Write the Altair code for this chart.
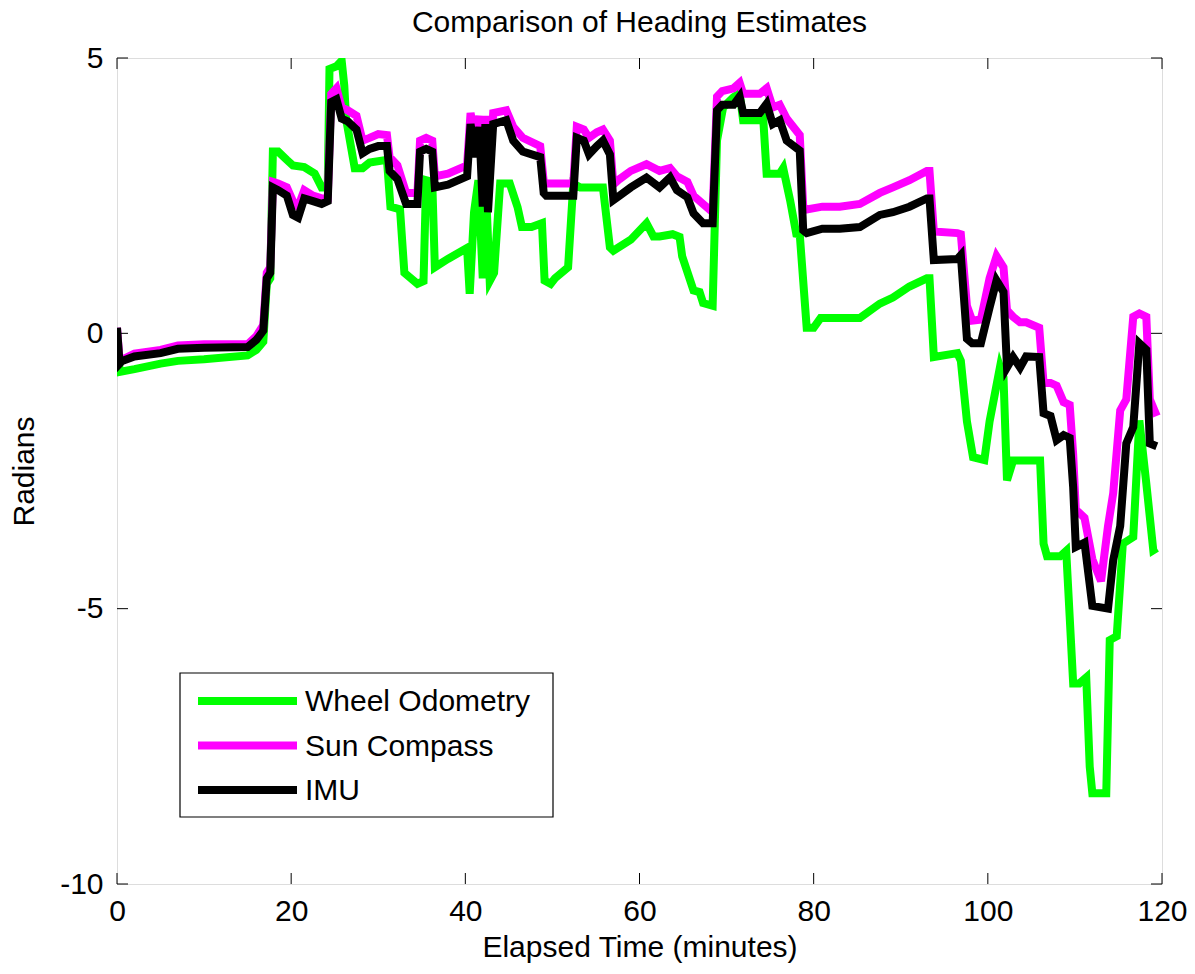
import altair as alt
import pandas as pd

# ---- data ----
series_names = ["Wheel Odometry", "Sun Compass", "IMU"]
series_colors = ["#00ff00", "#ff00ff", "#000000"]

imu_t = [0, 0.3, 0.6, 2, 5, 7, 10, 15, 16, 16.8, 17.2, 17.6, 17.9, 18.5, 19.5, 20.2, 20.8, 21.5, 22.5, 23.5,
         24.2, 24.6, 25.2, 25.8, 26.5, 27.5, 28.2, 29, 30, 31, 31.3, 32.2, 33.2, 34.5, 34.8, 35.5, 36.2, 36.5,
         38, 40.2, 40.6, 41.2, 41.6, 42.0, 42.3, 42.6, 43.2, 44.7, 45.5, 46.6, 48.6, 49.0, 49.3, 52.4, 52.8,
         53.6, 54.2, 55.1, 55.8, 56.6, 57.0, 57.7, 59, 60.8, 62.3, 63.5, 64.3, 65.5, 66.2, 67.3, 68.4, 68.9,
         69.5, 70.8, 71.5, 71.9, 73.8, 74.6, 75.3, 76.1, 76.9, 78.4, 78.8, 79.2, 81, 83, 85.3, 87.6, 89.1, 91,
         93, 93.3, 93.8, 96.5, 96.9, 97.6, 98.2, 99.2, 100.2, 101.0, 101.8, 102.2, 102.9, 103.7, 104.4, 105.9,
         106.4, 107.2, 107.9, 108.7, 109.4, 109.8, 110.1, 111.1, 112, 113.8, 114.4, 115.2, 115.9, 116.7, 117.4,
         118.2, 118.6, 119.4]
imu_v = [0.1, -0.55, -0.5, -0.42, -0.36, -0.28, -0.26, -0.25, -0.12, 0.05, 1.0, 1.1, 2.65, 2.6, 2.5, 2.15, 2.1,
         2.45, 2.4, 2.35, 2.4, 4.2, 4.25, 3.9, 3.85, 3.7, 3.27, 3.35, 3.4, 3.4, 2.95, 2.8, 2.35, 2.35, 3.3, 3.35,
         3.3, 2.65, 2.7, 2.85, 3.8, 3.2, 3.75, 2.3, 3.8, 2.2, 3.8, 3.87, 3.5, 3.3, 3.2, 2.55, 2.5, 2.5, 3.55, 3.5,
         3.25, 3.4, 3.5, 3.25, 2.42, 2.5, 2.65, 2.83, 2.65, 2.83, 2.6, 2.47, 2.18, 2.0, 2.0, 4.05, 4.15, 4.15,
         4.3, 4.0, 4.0, 4.17, 3.8, 3.87, 3.5, 3.32, 1.87, 1.82, 1.9, 1.9, 1.93, 2.15, 2.2, 2.3, 2.45, 2.45, 1.33,
         1.35, 1.42, -0.1, -0.18, -0.18, 0.47, 0.96, 0.75, -0.62, -0.43, -0.62, -0.42, -0.43, -1.45, -1.5, -1.94,
         -1.85, -1.9, -2.8, -3.88, -3.8, -4.95, -5.0, -4.12, -3.5, -2.0, -1.7, -0.18, -0.3, -2.0, -2.05]

sun_t = [0, 0.3, 2, 5, 7, 10, 15, 16, 16.8, 17.2, 17.6, 17.9, 18.5, 19.5, 20.2, 20.8, 21.5, 22.5, 23.5, 24.2,
         24.6, 25.2, 25.8, 26.5, 27.5, 28.2, 29, 30, 31, 31.3, 32.2, 33.2, 34.5, 34.8, 35.5, 36.2, 36.5, 38,
         40.2, 40.6, 41.2, 41.6, 42.0, 42.3, 42.6, 43.2, 44.7, 45.5, 46.6, 48.6, 49.0, 49.3, 52.4, 52.8, 53.6,
         54.2, 55.1, 55.8, 56.6, 57.0, 57.7, 59, 60.8, 62.3, 63.5, 64.3, 65.5, 66.2, 67.3, 68.4, 68.9, 69.5,
         70.8, 71.5, 71.9, 73.8, 74.6, 75.3, 76.1, 76.9, 78.4, 78.8, 79.2, 81, 83, 85.3, 87.6, 89.1, 91, 93,
         93.3, 93.8, 96.5, 96.9, 97.6, 98.2, 99.2, 100.2, 101.0, 101.8, 102.2, 102.9, 103.7, 104.4, 105.9,
         106.4, 107.2, 107.9, 108.7, 109.4, 109.8, 110.1, 111.1, 112, 113, 113.8, 114.4, 115.2, 115.9, 116.7,
         117.4, 118.2, 118.6, 119.4]
sun_v = [0.1, -0.5, -0.37, -0.3, -0.22, -0.2, -0.2, -0.05, 0.15, 1.1, 1.2, 2.75, 2.72, 2.65, 2.4, 2.3, 2.6, 2.5,
         2.45, 2.45, 4.35, 4.45, 4.1, 4.05, 3.95, 3.5, 3.55, 3.62, 3.6, 3.2, 3.05, 2.55, 2.55, 3.5, 3.55, 3.5,
         2.85, 2.9, 3.05, 4.0, 3.5, 3.95, 2.6, 3.95, 2.5, 4.0, 4.05, 3.75, 3.55, 3.4, 2.75, 2.72, 2.72, 3.75, 3.7,
         3.55, 3.65, 3.7, 3.5, 2.7, 2.8, 2.95, 3.07, 2.95, 3.0, 2.85, 2.75, 2.5, 2.35, 2.2, 4.3, 4.4, 4.45, 4.55,
         4.35, 4.35, 4.45, 4.1, 4.15, 3.9, 3.6, 2.3, 2.25, 2.3, 2.3, 2.35, 2.55, 2.65, 2.78, 2.95, 2.95, 1.85,
         1.82, 1.8, 0.5, 0.23, 0.25, 1.0, 1.4, 1.2, 0.42, 0.3, 0.2, 0.2, 0.1, -0.9, -0.9, -0.95, -1.25, -1.3,
         -2.2, -3.2, -3.35, -4.1, -4.5, -3.5, -2.9, -1.4, -1.2, 0.3, 0.36, 0.3, -1.2, -1.5]

wheel_t = [0, 0.3, 2, 5, 7, 10, 15, 16, 16.8, 17.2, 17.6, 17.9, 18.5, 19.5, 20.2, 21.5, 22.7, 23.5, 24.2, 24.4,
           25.2, 25.8, 26.1, 26.3, 27.3, 28.2, 29, 31, 31.4, 32.5, 33.0, 34.5, 35.2, 35.5, 36.2, 36.5, 38, 40.2,
           40.5, 41, 41.5, 42.0, 42.4, 42.8, 43.3, 44, 45.1, 46, 46.5, 47.6, 48.8, 49.1, 49.8, 50.3, 51.8, 52.4,
           53.2, 55.8, 56.6, 57, 59, 60.8, 61.6, 62.3, 63.8, 64.6, 64.9, 66.2, 66.9, 67.3, 68.4, 68.9, 69.6,
           70.8, 71.5, 71.9, 73.8, 74.2, 74.6, 76.1, 76.5, 77.3, 78, 78.4, 79.2, 80, 80.8, 85.3, 87.6, 89.1, 91,
           93, 93.3, 93.8, 96.5, 96.9, 97.6, 98.3, 99.6, 100.2, 101.4, 101.8, 102.2, 102.9, 106, 106.4, 106.8,
           108.3, 109, 109.4, 109.8, 110.5, 111.3, 111.7, 112, 113.6, 114, 114.8, 115.5, 116.7, 117.4, 118.2,
           119, 119.4]
wheel_v = [0.0, -0.7, -0.65, -0.55, -0.5, -0.47, -0.4, -0.3, -0.15, 0.9, 1.0, 3.3, 3.3, 3.15, 3.05, 3.02, 2.9,
           2.65, 2.65, 4.8, 4.85, 4.95, 4.5, 3.9, 3.0, 3.0, 3.1, 3.15, 2.3, 2.25, 1.1, 0.9, 0.95, 2.78, 2.75, 1.2,
           1.35, 1.55, 0.72, 2.2, 2.78, 1.0, 2.5, 0.95, 1.1, 2.72, 2.72, 2.29, 1.93, 1.93, 2.0, 0.96, 0.9, 1.0,
           1.2, 2.72, 2.65, 2.65, 1.56, 1.5, 1.7, 2.0, 1.76, 1.76, 1.8, 1.75, 1.4, 0.78, 0.75, 0.55, 0.5, 3.5,
           4.1, 4.29, 4.36, 3.87, 3.87, 3.92, 2.9, 2.9, 3.0, 2.41, 1.81, 1.8, 0.1, 0.1, 0.28, 0.28, 0.54, 0.65,
           0.85, 1.0, 1.0, -0.43, -0.36, -0.5, -1.6, -2.25, -2.3, -1.6, -0.61, -0.8, -2.67, -2.31, -2.31, -3.82,
           -4.05, -4.05, -3.95, -5.15, -6.36, -6.36, -6.25, -7.87, -8.35, -8.35, -5.57, -5.5, -3.82, -3.7, -1.58,
           -2.73, -3.94, -3.9]

x_ticks = [0, 20, 40, 60, 80, 100, 120]
y_ticks = [-10, -5, 0, 5]

# ---- tables ----
def frame(name, t, v):
    return pd.DataFrame({"t": t, "v": v, "series": name, "i": range(len(t))})

df_wheel = frame("Wheel Odometry", wheel_t, wheel_v)
df_sun = frame("Sun Compass", sun_t, sun_v)
df_imu = frame("IMU", imu_t, imu_v)
df_xt = pd.DataFrame({"t": x_ticks})
df_yt = pd.DataFrame({"v": y_ticks})
df_leg = pd.DataFrame({"series": series_names, "row": list(range(len(series_names)))})

W, H = 1045, 826
TL = 11
FONT = "Liberation Sans"
FS = 30

xscale = alt.Scale(domain=[0, 120], nice=False, zero=False)
yscale = alt.Scale(domain=[-10, 5], nice=False, zero=False)
cscale = alt.Scale(domain=series_names, range=series_colors)

xaxis = alt.Axis(values=x_ticks, ticks=False, domain=False, grid=False, labelFlush=False,
                 labelPadding=12, labelFontSize=FS, labelFont=FONT, labelColor="black",
                 labelExpr="toString(datum.value)",
                 title="Elapsed Time (minutes)", titleFontSize=FS, titleFont=FONT,
                 titleFontWeight="normal", titleColor="black", titlePadding=6)
yaxis = alt.Axis(values=y_ticks, ticks=False, domain=False, grid=False, labelFlush=False,
                 labelPadding=14, labelFontSize=FS, labelFont=FONT, labelColor="black",
                 labelExpr="toString(datum.value)",
                 title="Radians", titleFontSize=FS, titleFont=FONT, titleFontWeight="normal",
                 titleColor="black", titlePadding=20)

X = alt.X("t:Q", scale=xscale, axis=xaxis)
Y = alt.Y("v:Q", scale=yscale, axis=yaxis)


def line(df):
    return alt.Chart(df).mark_line(strokeWidth=8, clip=True).encode(
        x=X, y=Y, order="i:Q",
        color=alt.Color("series:N", scale=cscale, legend=None),
    )


layers = [line(df_wheel), line(df_sun), line(df_imu)]

tick_style = dict(color="black", strokeWidth=1)
layers += [
    alt.Chart(df_xt).mark_rule(**tick_style).encode(x=X, y=alt.value(H), y2=alt.value(H - TL)),
    alt.Chart(df_xt).mark_rule(**tick_style).encode(x=X, y=alt.value(0), y2=alt.value(TL)),
    alt.Chart(df_yt).mark_rule(**tick_style).encode(y=Y, x=alt.value(0), x2=alt.value(TL)),
    alt.Chart(df_yt).mark_rule(**tick_style).encode(y=Y, x=alt.value(W), x2=alt.value(W - TL)),
]

# ---- legend box (drawn in pixel space of the plot area) ----
LX0, LX1, LY0, LY1 = 63, 436, 615, 759
ROW0, ROWSTEP = 643, 44.5
layers.append(
    alt.Chart(df_leg.head(1)).mark_rect(fill="white", stroke="black", strokeWidth=1.2).encode(
        x=alt.value(LX0), x2=alt.value(LX1), y=alt.value(LY0), y2=alt.value(LY1))
)
for i, name in enumerate(series_names):
    sub = df_leg[df_leg["series"] == name]
    ypix = ROW0 + ROWSTEP * i
    layers.append(
        alt.Chart(sub).mark_rule(strokeWidth=8).encode(
            x=alt.value(81), x2=alt.value(180), y=alt.value(ypix),
            color=alt.Color("series:N", scale=cscale, legend=None))
    )
    layers.append(
        alt.Chart(sub).mark_text(align="left", baseline="middle", font=FONT, fontSize=FS,
                                 color="black").encode(
            x=alt.value(188), y=alt.value(ypix + 1), text="series:N")
    )

chart = alt.layer(*layers).properties(
    width=W, height=H,
    title=alt.TitleParams("Comparison of Heading Estimates", fontSize=FS, font=FONT,
                          fontWeight="normal", color="black", anchor="middle", offset=5),
    autosize=alt.AutoSizeParams(type="none"),
    padding={"left": 117, "top": 58, "right": 33, "bottom": 90},
).configure_view(stroke="black", strokeWidth=1.5).configure(background="white")

chart.save("out.html", embed_options={"renderer": "svg", "actions": False})
